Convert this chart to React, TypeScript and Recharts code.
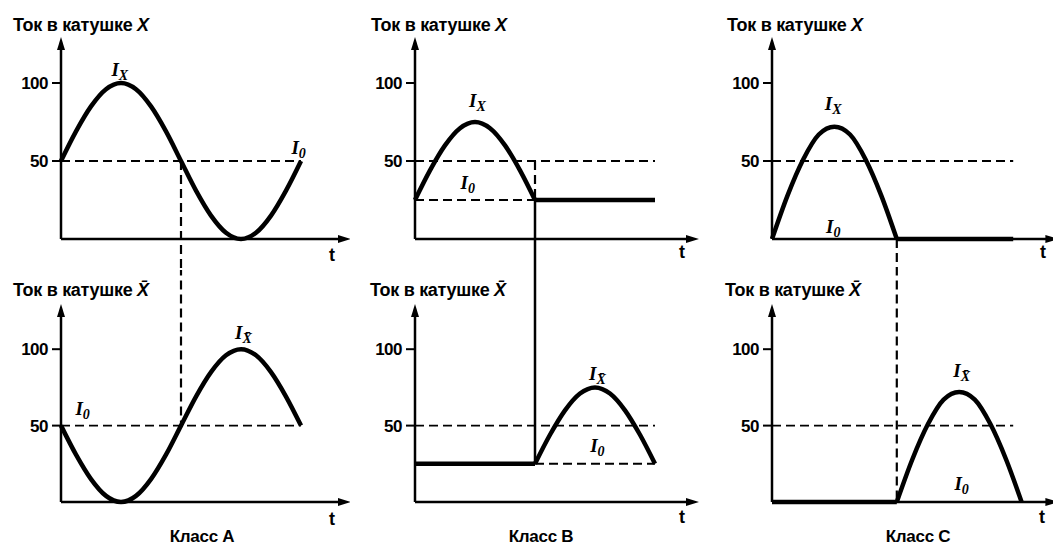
import React from "react";
import { LineChart, Line, XAxis, YAxis, ReferenceLine, ReferenceDot } from "recharts";

// ---- data (time in ms, current in %) ----
const sineTimes = [0, 1.25, 2.5, 3.75, 5, 6.25, 7.5, 8.75, 10, 11.25, 12.5, 13.75, 15, 16.25, 17.5, 18.75, 20];
const coilXClassA = [50, 69, 85, 96, 100, 96, 85, 69, 50, 31, 15, 4, 0, 4, 15, 31, 50];
const coilXbarClassA = [50, 31, 15, 4, 0, 4, 15, 31, 50, 69, 85, 96, 100, 96, 85, 69, 50];

const halfTimesB1 = [0, 1.25, 2.5, 3.75, 5, 6.25, 7.5, 8.75, 10];
const halfTimesB2 = [10, 11.25, 12.5, 13.75, 15, 16.25, 17.5, 18.75, 20];
const pulseB = [25, 44, 60, 71, 75, 71, 60, 44, 25];
const holdTimesB1 = [10, 20];
const holdTimesB2 = [0, 10];
const holdValuesB = [25, 25];

const halfTimesC1 = [0, 1.3, 2.6, 3.9, 5.2, 6.5, 7.8, 9.1, 10.4];
const halfTimesC2 = [10.4, 11.7, 13, 14.3, 15.6, 16.9, 18.2, 19.5, 20.8];
const pulseC = [0, 28, 51, 67, 72, 67, 51, 28, 0];
const holdTimesC1 = [10.4, 20.1];
const holdTimesC2 = [0, 10.4];
const holdValuesC = [0, 0];

const yTicks = [50, 100];
const topTitle = "Ток в катушке ";
const classLabels = ["Класс А", "Класс В", "Класс С"];

const rows = (ts: number[], vs: number[]) => ts.map((t, i) => ({ t, v: vs[i] }));

const SANS = "'Liberation Sans', Arial, sans-serif";
const SERIF = "'Liberation Serif', 'DejaVu Serif', serif";

const UpArrow = (p: any) => (
  <path d={`M${p.cx},${p.cy - 7} L${p.cx - 4},${p.cy + 6} L${p.cx + 4},${p.cy + 6} Z`} fill="#000" />
);
const RightArrow = (p: any) => (
  <path d={`M${p.cx + 8},${p.cy} L${p.cx - 5},${p.cy - 4} L${p.cx - 5},${p.cy + 4} Z`} fill="#000" />
);
const makeCurrentLabel = (sub: string) => (p: any) => (
  <text x={p.cx} y={p.cy + 5} textAnchor="middle" fontFamily={SERIF} fontWeight="bold" fontSize={19} fill="#000">
    <tspan fontStyle="italic">I</tspan>
    <tspan fontStyle="italic" fontSize={14} dy={4}>{sub}</tspan>
  </text>
);

type Seg = { pts: [number, number][]; dash?: boolean; w?: number };
type Lbl = { t: number; v: number; sub: string };

type PanelProps = {
  left: number;
  top: number;
  width: number;
  height: number;
  margin: { top: number; right: number; bottom: number; left: number };
  xMax: number;
  series: { t: number; v: number }[][];
  segs: Seg[];
  labels: Lbl[];
  dashW: number;
};

function Panel({ left, top, width, height, margin, xMax, series, segs, labels, dashW }: PanelProps) {
  return (
    <div style={{ position: "absolute", left, top, width, height }}>
      <LineChart width={width} height={height} margin={margin}>
        <XAxis type="number" dataKey="t" domain={[0, xMax]} hide />
        <YAxis
          type="number"
          dataKey="v"
          domain={[0, 125]}
          ticks={yTicks}
          interval={0}
          width={60}
          tickSize={9}
          tickMargin={4}
          tickLine={{ stroke: "#000", strokeWidth: 2 }}
          axisLine={{ stroke: "#000", strokeWidth: 2.5 }}
          tick={{ fill: "#000", fontSize: 17, fontWeight: "bold", fontFamily: SANS, letterSpacing: -0.5 }}
        />
        {/* time axis */}
        <ReferenceLine
          segment={[{ x: 0, y: 0 }, { x: xMax, y: 0 }]}
          stroke="#000"
          strokeWidth={2.5}
          ifOverflow="visible"
        />
        {segs.map((s, i) => (
          <ReferenceLine
            key={"s" + i}
            segment={s.pts.map(([x, y]) => ({ x, y }))}
            stroke="#000"
            strokeWidth={s.w ?? dashW}
            strokeDasharray={s.dash === false ? undefined : "9 5"}
            ifOverflow="visible"
          />
        ))}
        {series.map((d, i) => (
          <Line
            key={"l" + i}
            data={d}
            dataKey="v"
            type="monotone"
            stroke="#000"
            strokeWidth={4.5}
            dot={false}
            isAnimationActive={false}
          />
        ))}
        <ReferenceDot x={0} y={125} r={0} ifOverflow="visible" shape={UpArrow} />
        <ReferenceDot x={xMax} y={0} r={0} ifOverflow="visible" shape={RightArrow} />
        {labels.map((l, i) => (
          <ReferenceDot key={"lb" + i} x={l.t} y={l.v} r={0} ifOverflow="visible" shape={makeCurrentLabel(l.sub)} />
        ))}
      </LineChart>
    </div>
  );
}

const XBAR = "X\u0304";

const textStyle: React.CSSProperties = {
  position: "absolute",
  fontFamily: SANS,
  fontWeight: "bold",
  fontSize: 18,
  lineHeight: "18px",
  color: "#000",
  whiteSpace: "nowrap",
  letterSpacing: -0.3,
};

export default function App() {
  const topM = (l: number, r: number) => ({ top: 44, bottom: 31, left: l, right: r });
  const botM = (l: number, r: number) => ({ top: 41, bottom: 43, left: l, right: r });
  return (
    <div style={{ position: "absolute", left: 0, top: 0, width: 1053, height: 545, background: "#fff", overflow: "hidden" }}>
      {/* Class A */}
      <Panel
        left={0} top={0} width={350} height={270} margin={topM(1, 7)} xMax={23.5} dashW={2.2}
        series={[rows(sineTimes, coilXClassA)]}
        segs={[
          { pts: [[0, 50], [20, 50]] },
          { pts: [[10, 50], [10, -60]] },
        ]}
        labels={[{ t: 4.9, v: 108, sub: "X" }, { t: 19.8, v: 58, sub: "0" }]}
      />
      <Panel
        left={0} top={270} width={350} height={275} margin={botM(1, 7)} xMax={23.5} dashW={1.6}
        series={[rows(sineTimes, coilXbarClassA)]}
        segs={[
          { pts: [[0, 50], [20, 50]] },
          { pts: [[10, 200], [10, 50]], w: 2.2 },
        ]}
        labels={[{ t: 1.8, v: 60, sub: "0" }, { t: 15.2, v: 110, sub: XBAR }]}
      />
      {/* Class B */}
      <Panel
        left={350} top={0} width={350} height={270} margin={topM(5, 9)} xMax={23} dashW={2.2}
        series={[rows(halfTimesB1, pulseB), rows(holdTimesB1, holdValuesB)]}
        segs={[
          { pts: [[0, 50], [20, 50]] },
          { pts: [[0, 25], [10, 25]] },
          { pts: [[10, 50], [10, 25]] },
          { pts: [[10, 25], [10, -60]], dash: false, w: 2.5 },
        ]}
        labels={[{ t: 5.2, v: 88, sub: "X" }, { t: 4.4, v: 35, sub: "0" }]}
      />
      <Panel
        left={350} top={270} width={350} height={275} margin={botM(5, 9)} xMax={23} dashW={1.6}
        series={[rows(holdTimesB2, holdValuesB), rows(halfTimesB2, pulseB)]}
        segs={[
          { pts: [[0, 50], [20, 50]] },
          { pts: [[10, 25], [20, 25]], w: 2 },
          { pts: [[10, 200], [10, 25]], dash: false, w: 2.5 },
        ]}
        labels={[{ t: 15.2, v: 83, sub: XBAR }, { t: 15.2, v: 36, sub: "0" }]}
      />
      {/* Class C */}
      <Panel
        left={700} top={0} width={353} height={270} margin={topM(12, 2.6)} xMax={23.2} dashW={2.2}
        series={[rows(halfTimesC1, pulseC), rows(holdTimesC1, holdValuesC)]}
        segs={[
          { pts: [[0, 50], [20.1, 50]] },
          { pts: [[10.4, 0], [10.4, -60]] },
        ]}
        labels={[{ t: 5.1, v: 86, sub: "X" }, { t: 5.1, v: 7, sub: "0" }]}
      />
      <Panel
        left={700} top={270} width={353} height={275} margin={botM(12, 2.6)} xMax={23.2} dashW={1.6}
        series={[rows(holdTimesC2, holdValuesC), rows(halfTimesC2, pulseC)]}
        segs={[
          { pts: [[0, 50], [20.1, 50]] },
          { pts: [[10.4, 200], [10.4, 0]], w: 2.2 },
        ]}
        labels={[{ t: 15.8, v: 85, sub: XBAR }, { t: 15.8, v: 11, sub: "0" }]}
      />

      {/* titles */}
      {[
        { x: 13, y: 16, s: "X" },
        { x: 371, y: 16, s: "X" },
        { x: 727, y: 16, s: "X" },
        { x: 13, y: 281, s: XBAR },
        { x: 370, y: 281, s: XBAR },
        { x: 725, y: 281, s: XBAR },
      ].map((t, i) => (
        <div key={"t" + i} style={{ ...textStyle, left: t.x, top: t.y }}>
          {topTitle}
          <span style={{ fontStyle: "italic" }}>{t.s}</span>
        </div>
      ))}
      {/* time-axis labels */}
      {[
        { x: 329, y: 246 },
        { x: 329, y: 510 },
        { x: 679, y: 243 },
        { x: 679, y: 508 },
        { x: 1040, y: 243 },
        { x: 1039, y: 508 },
      ].map((t, i) => (
        <div key={"x" + i} style={{ ...textStyle, left: t.x, top: t.y }}>t</div>
      ))}
      {/* class labels */}
      {[
        { x: 202, y: 528 },
        { x: 541, y: 528 },
        { x: 918, y: 528 },
      ].map((t, i) => (
        <div key={"c" + i} style={{ ...textStyle, left: t.x, top: t.y, transform: "translateX(-50%)", fontSize: 17 }}>
          {classLabels[i]}
        </div>
      ))}
    </div>
  );
}
